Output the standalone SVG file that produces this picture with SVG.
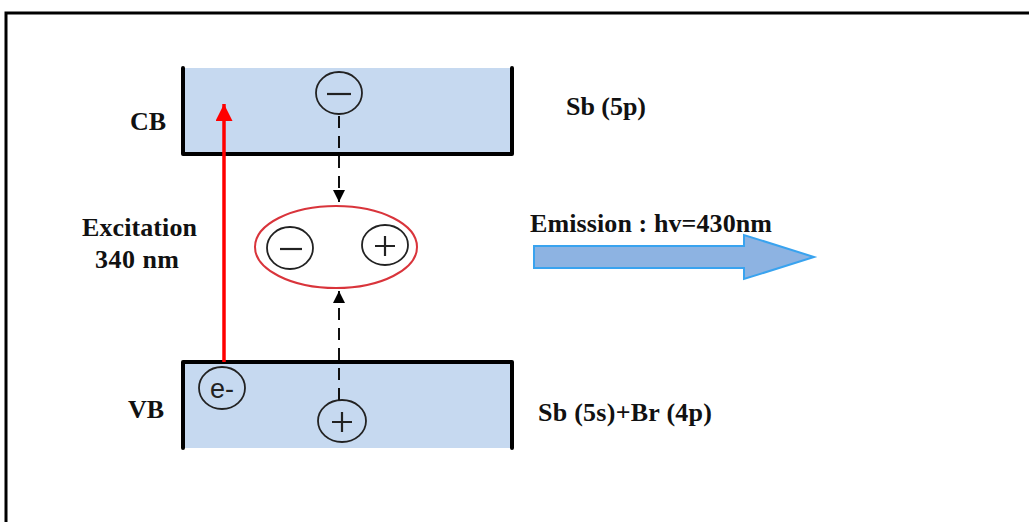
<svg xmlns="http://www.w3.org/2000/svg" width="1029" height="522" viewBox="0 0 1029 522">
<defs>
<style>
.t{font-family:"Liberation Serif","Times New Roman",serif;font-weight:bold;fill:#111;font-size:26px}
.band{fill:#c6d9f0}
.edge{fill:none;stroke:#000;stroke-width:4;stroke-linejoin:round;stroke-linecap:round}
.ptc{fill:none;stroke:#222;stroke-width:1.8}
.sign{stroke:#222;stroke-width:2.2;fill:none}
.dash{stroke:#111;stroke-width:2;stroke-dasharray:12 8;fill:none}
</style>
<marker id="ah" viewBox="0 0 10 10" refX="10" refY="5" markerWidth="13" markerHeight="12" markerUnits="userSpaceOnUse" orient="auto"><path d="M0,0 L10,5 L0,10 z" fill="#000"/></marker>
<marker id="ahr" viewBox="0 0 10 10" refX="10" refY="5" markerWidth="18" markerHeight="17" markerUnits="userSpaceOnUse" orient="auto"><path d="M0,0 L10,5 L0,10 z" fill="#f00"/></marker>
</defs>
<rect width="1029" height="522" fill="#fff"/>
<path d="M6,522 V13 H1029" fill="none" stroke="#000" stroke-width="3"/>
<g id="cb">
<rect class="band" x="182" y="68" width="331" height="87"/>
<path class="edge" d="M183,68 V154 H512 V68"/>
<text class="t" x="130" y="130" font-size="27">CB</text>
</g>
<g id="vb">
<rect class="band" x="182" y="361" width="331" height="87"/>
<path class="edge" d="M183,448 V362 H512 V448"/>
<text class="t" x="128" y="418" font-size="27">VB</text>
</g>
<g id="cb-electron">
<ellipse class="ptc" cx="339" cy="93" rx="23" ry="21"/>
<line class="sign" x1="327" y1="94" x2="351" y2="94"/>
</g>
<g id="exciton">
<ellipse cx="336" cy="247" rx="81" ry="41" fill="none" stroke="#d9343b" stroke-width="2"/>
<ellipse class="ptc" cx="290" cy="248" rx="23" ry="21"/>
<line class="sign" x1="280" y1="249" x2="302" y2="249"/>
<ellipse class="ptc" cx="385" cy="245" rx="23" ry="20"/>
<path class="sign" d="M375,246 H395 M385,236 V256"/>
</g>
<g id="vb-electron">
<ellipse class="ptc" cx="222" cy="388" rx="23" ry="21"/>
<text x="222" y="398" font-family="Liberation Sans,Arial,sans-serif" font-size="27" text-anchor="middle" fill="#222">e-</text>
</g>
<g id="vb-hole">
<ellipse class="ptc" cx="342" cy="421" rx="24" ry="21"/>
<path class="sign" d="M332,422 H352 M342,412 V432"/>
</g>
<g id="labels">
<text class="t" x="82" y="236" textLength="115">Excitation</text>
<text class="t" x="95" y="268" textLength="84">340 nm</text>
<text class="t" x="566" y="115" textLength="80">Sb (5p)</text>
<text class="t" x="530" y="232" textLength="242">Emission : hv=430nm</text>
<text class="t" x="538" y="421" textLength="174">Sb (5s)+Br (4p)</text>
</g>
<g id="emission">
<path d="M534,246 H744 V235 L814,257 L744,279 V268 H534 Z" fill="#8db3e2" stroke="#39a3ef" stroke-width="2"/>
</g>
<g id="connectors">
<line x1="224" y1="362" x2="224" y2="104" stroke="#f00" stroke-width="3.5" marker-end="url(#ahr)"/>
<line class="dash" x1="339" y1="116" x2="339" y2="202" marker-end="url(#ah)"/>
<line class="dash" x1="339" y1="400" x2="339" y2="291" marker-end="url(#ah)"/>
</g>
</svg>
